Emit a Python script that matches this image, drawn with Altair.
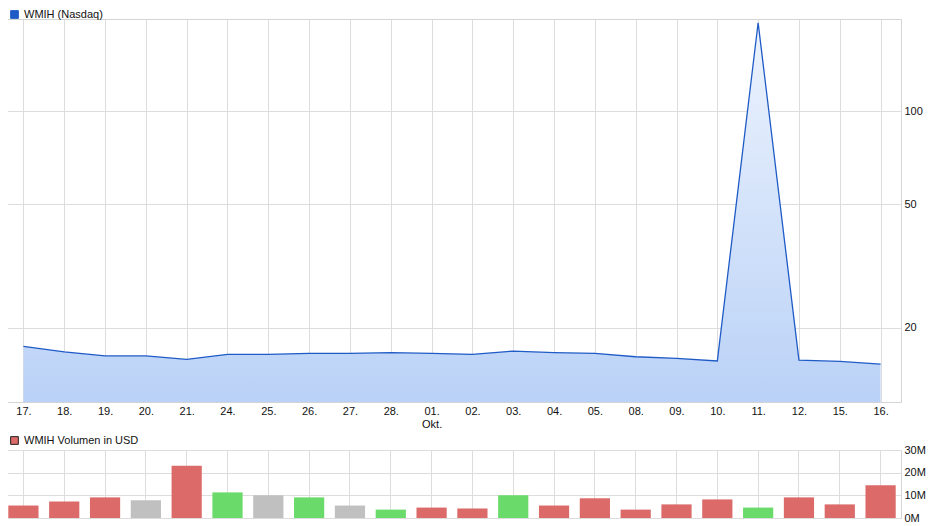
import altair as alt
import pandas as pd

dates = ["17.", "18.", "19.", "20.", "21.", "24.", "25.", "26.", "27.", "28.", "01.",
         "02.", "03.", "04.", "05.", "08.", "09.", "10.", "11.", "12.", "15.", "16."]
price = [17.4, 16.7, 16.2, 16.2, 15.8, 16.4, 16.4, 16.5, 16.5, 16.6, 16.5,
         16.4, 16.8, 16.6, 16.5, 16.1, 15.9, 15.6, 193.0, 15.7, 15.55, 15.25]
volume_m = [5.5, 7.3, 9.1, 7.8, 23.0, 11.3, 10.0, 9.1, 5.5, 3.7, 4.6,
            4.2, 10.0, 5.5, 8.7, 3.7, 6.0, 8.2, 4.6, 9.1, 6.0, 14.5]
direction = ["down", "down", "down", "flat", "down", "up", "flat", "up", "flat", "up", "down",
             "down", "up", "down", "down", "down", "down", "down", "up", "down", "down", "down"]
price_ticks = [20, 50, 100]
volume_ticks_m = [0, 10, 20, 30]

FONT = "Liberation Sans"
GRID = "#DDDDDD"

top_df = pd.DataFrame({"date": dates, "price": price, "series": ["WMIH (Nasdaq)"] * len(dates)})
bot_df = pd.DataFrame({"date": dates, "volume": [v * 1e6 for v in volume_m], "dir": direction})

y_min, y_max = 11.5, 198.5

x_top = alt.X("date:O", sort=None, scale=alt.Scale(type="point", padding=0.5),
              axis=alt.Axis(title=None, labelAngle=0, ticks=False, domain=False, grid=True,
                            gridColor=GRID, labelFontSize=11, labelPadding=3, labelColor="#111",
                            labelFont=FONT, labelLineHeight=13,
                            labelExpr="datum.value == '01.' ? ['01.', 'Okt.'] : datum.value"))
y_top = alt.Y("price:Q", scale=alt.Scale(type="log", domain=[y_min, y_max], nice=False),
              axis=alt.Axis(orient="right", values=price_ticks, title=None, ticks=False, domain=False,
                            gridColor=GRID, labelFontSize=11, labelPadding=3, labelColor="#111",
                            labelFont=FONT))

gradient = alt.Gradient(gradient="linear",
                        stops=[alt.GradientStop(color="#EDF3FD", offset=0),
                               alt.GradientStop(color="#BAD2F7", offset=1)],
                        x1=1, x2=1, y1=0, y2=1)

area = alt.Chart(top_df).mark_area(color=gradient, clip=True).encode(
    x=x_top, y=y_top, y2=alt.datum(y_min))
line = alt.Chart(top_df).mark_line(strokeWidth=1.3, clip=True).encode(
    x=x_top, y=y_top,
    color=alt.Color("series:N", scale=alt.Scale(range=["#1F5BC6"]),
                    legend=alt.Legend(title=None, orient="none", legendX=6, legendY=-10,
                                      symbolType="square", symbolSize=60,
                                      symbolFillColor="#1F5BC6", symbolStrokeWidth=1,
                                      labelFontSize=11, labelFont=FONT, labelColor="#111",
                                      padding=0, labelOffset=4)))
top = alt.layer(area, line).properties(width=898, height=383)

bars = alt.Chart(bot_df).mark_bar().encode(
    x=alt.X("date:O", sort=None, scale=alt.Scale(paddingInner=0.26, paddingOuter=0.13),
            axis=alt.Axis(title=None, labels=False, ticks=False, domain=False, grid=True,
                          bandPosition=0.5, gridColor=GRID)),
    y=alt.Y("volume:Q", scale=alt.Scale(domain=[0, 30e6], nice=False),
            axis=alt.Axis(orient="right", values=[v * 1e6 for v in volume_ticks_m],
                          labelExpr="format(datum.value / 1e6, 'd') + 'M'",
                          title=None, ticks=False, domain=False, gridColor=GRID,
                          labelFontSize=11, labelPadding=3, labelColor="#111", labelFont=FONT)),
    color=alt.Color("dir:N",
                    scale=alt.Scale(domain=["down", "up", "flat"],
                                    range=["#DB6A69", "#6ADB6A", "#C0C0C0"]),
                    legend=alt.Legend(values=["down"], labelExpr="'WMIH Volumen in USD'",
                                      title=None, orient="none", legendX=6, legendY=-15,
                                      symbolType="square", symbolSize=60,
                                      symbolStrokeColor="#222", symbolStrokeWidth=1,
                                      labelFontSize=11, labelFont=FONT, labelColor="#111",
                                      padding=0, labelOffset=4))
).properties(width=898, height=68)

chart = alt.vconcat(top, bars, spacing=4).resolve_scale(
    color="independent", x="independent"
).resolve_legend(color="independent").properties(
    padding={"left": -6, "top": 0, "right": 0, "bottom": 0}
).configure_view(stroke="#D4D4D4")

chart.save("out.html", embed_options={"renderer": "svg", "actions": False})
